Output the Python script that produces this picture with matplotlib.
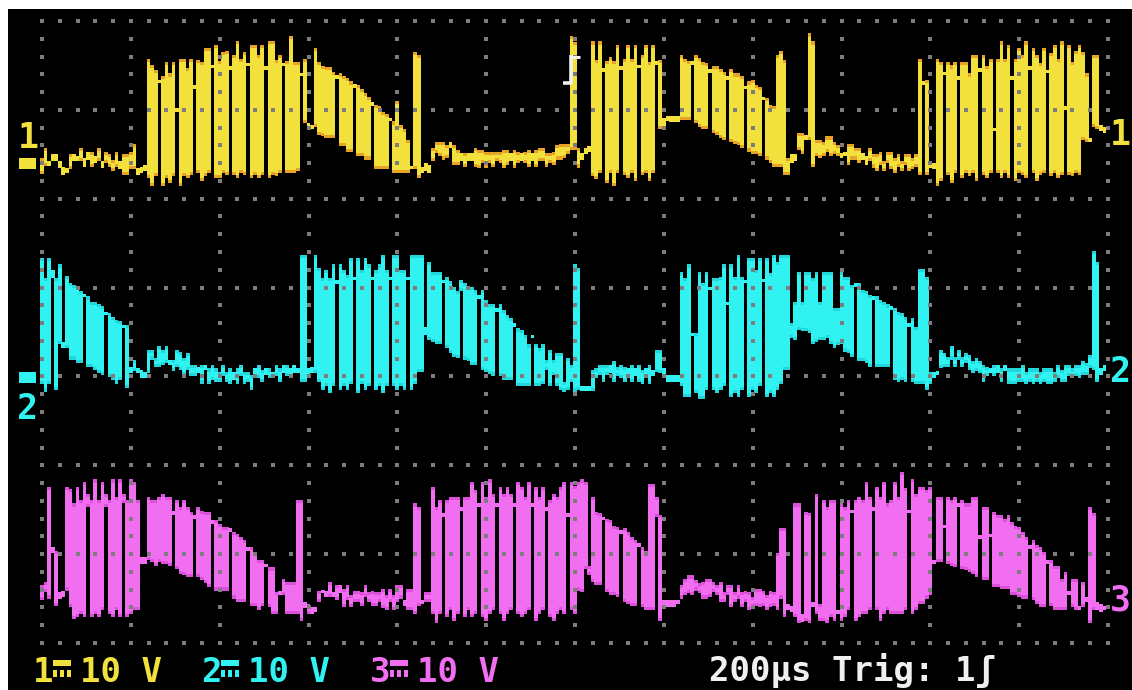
import numpy as np
import matplotlib
matplotlib.use("Agg")
import matplotlib.pyplot as plt
from matplotlib.patches import Rectangle
from matplotlib.transforms import IdentityTransform
from matplotlib import font_manager
from matplotlib.ft2font import FT2Font

# scope settings
time_per_div_us = 200
volts_per_div = 10
sample_us = 8.0          # one display column
n_hdiv, n_vdiv = 12, 7

# channel ground levels, in divisions from the bottom graticule line
ch1_ground = 5.40
ch2_ground = 2.99
ch3_ground = 0.48
trigger_us = 1200
trigger_level_v = 10.6

# per-column min / max of each trace, volts (300 columns, 8 us each)
ch1_lo = [
    -1.2, -0.3, -0.3, 0.2, 0.2, -0.5, -1.3, -1.1, -0.7, 0.2,
    0.2, 0.2, -0.4, 0.4, -0.4, 0.0, 0.2, -0.5, 0.0, -0.4,
    -0.9, -0.4, -0.7, -1.3, -1.3, -0.7, -0.7, -1.3, -1.1, -0.9,
    -1.7, -2.6, -1.5, 9.0, -2.6, -1.7, -2.2, -1.5, 5.8, -2.6,
    -1.5, -1.7, -1.3, 8.4, -1.1, -2.0, -1.5, -1.1, 10.7, -1.7,
    -1.7, -1.1, -1.3, 10.5, -1.3, -1.7, -1.1, -1.3, 10.9, -1.7,
    -1.3, -1.7, -1.3, 10.5, -1.7, -1.3, -1.5, -1.1, 10.9, -1.1,
    -1.1, -1.1, -0.9, 9.8, 4.5, 3.8, 3.8, 4.1, 3.2, 3.0,
    2.8, 2.8, 2.8, 9.5, 1.9, 1.9, 1.2, 1.2, 8.5, 0.8,
    0.8, 0.4, 0.4, 6.4, -0.7, -0.7, -0.7, -0.7, 4.7, -1.1,
    -1.1, -1.1, -1.1, -1.1, -0.7, -0.7, -1.7, -1.1, -0.9, -1.1,
    0.2, 1.1, 0.8, 0.4, 0.6, 1.7, -0.2, -0.2, 0.2, -0.4,
    0.2, 0.2, -0.4, -0.6, 0.0, -0.6, 0.0, -0.4, 0.2, 0.0,
    -0.6, -0.2, 0.2, -0.6, 0.0, 0.2, 0.0, -0.4, 0.2, -0.4,
    0.2, 0.2, -0.4, 0.0, -0.2, 0.4, 0.4, 0.6, 1.0, 1.5,
    1.5, -0.5, 0.4, 1.0, 1.3, -1.5, -1.8, -1.1, 10.3, -2.2,
    -1.1, -2.6, -1.1, 10.5, -1.3, -1.7, -1.1, -2.0, 10.7, -1.3,
    -1.1, -2.0, -1.1, 11.1, 3.8, 4.1, 4.7, 4.6, 4.6, 4.6,
    4.9, 4.9, 4.9, 11.1, 4.5, 4.1, 3.8, 3.8, 10.2, 3.4,
    3.2, 2.8, 2.6, 9.4, 2.4, 2.1, 2.0, 1.7, 8.3, 1.3,
    1.0, 1.0, 0.8, 7.1, 0.4, 0.0, -0.4, -0.4, -0.4, -1.3,
    -1.3, 0.0, 0.2, 1.5, 1.0, 2.6, 2.6, -0.4, 0.8, 0.6,
    0.8, 1.2, 0.8, 1.0, 0.8, 0.6, 0.8, -0.2, 0.4, 0.4,
    0.0, 0.4, -0.2, 0.2, -0.5, -0.9, -0.2, -0.9, 0.0, -0.7,
    -1.1, -0.4, -0.9, -0.2, -0.9, -0.7, -0.4, -1.3, 8.8, -1.3,
    -0.5, -0.7, -2.6, -2.0, 9.9, -1.3, -2.2, -1.1, 9.4, -1.7,
    -1.1, -1.5, -1.1, -2.0, 10.3, -1.3, -1.7, -1.1, 3.6, -1.1,
    -1.7, -1.1, -1.7, 9.4, -2.0, -1.1, -1.3, -1.7, 10.5, -1.1,
    -2.0, -1.3, -1.1, 10.1, -1.5, -1.1, -1.7, -1.3, 6.0, -1.3,
    -1.5, -1.1, -1.3, 2.6, 2.4, 2.4, 4.1, 3.8, 3.6, 3.4,
]
ch1_hi = [
    0.6, 1.7, 0.2, 1.0, 1.0, 0.2, -0.4, -0.5, 1.0, 1.0,
    0.8, 1.7, 0.6, 1.3, 1.3, 0.8, 1.7, 0.2, 1.3, 1.0,
    0.4, 1.3, 0.2, 1.0, 1.0, 1.3, 2.2, -0.5, -0.4, -0.2,
    11.7, 11.1, 10.5, 9.4, 9.8, 11.4, 10.1, 11.4, 6.1, 11.7,
    11.7, 10.7, 11.7, 8.8, 11.6, 11.4, 13.0, 13.0, 11.1, 13.3,
    11.5, 12.5, 12.6, 10.9, 12.2, 13.8, 11.7, 12.5, 11.3, 13.3,
    13.3, 12.2, 13.3, 10.9, 13.8, 13.8, 11.6, 12.2, 11.3, 11.5,
    14.3, 11.4, 11.4, 10.1, 11.7, 4.5, 4.3, 13.0, 11.4, 10.9,
    10.8, 10.8, 10.3, 9.9, 10.1, 9.8, 9.6, 9.2, 8.9, 8.8,
    8.4, 7.9, 7.5, 6.9, 6.6, 6.4, 5.8, 5.5, 5.0, 4.7,
    7.0, 4.3, 3.8, 2.6, -0.3, 12.5, 12.2, -0.4, 0.0, -0.2,
    1.7, 2.4, 2.4, 2.4, 2.0, 2.4, 2.0, 1.5, 1.1, 1.1,
    1.1, 1.1, 1.7, 1.5, 1.5, 1.3, 1.3, 1.3, 1.3, 1.3,
    1.5, 1.5, 1.1, 1.5, 1.3, 1.1, 1.3, 1.5, 1.1, 1.5,
    1.7, 1.7, 1.1, 1.1, 1.3, 2.0, 2.2, 2.2, 2.2, 14.3,
    13.6, 1.7, 1.1, 1.7, 1.9, 13.7, 11.6, 13.7, 10.7, 11.5,
    12.0, 11.5, 13.3, 10.9, 11.7, 13.3, 11.7, 13.3, 11.1, 12.2,
    13.3, 11.4, 13.3, 11.5, 11.6, 5.1, 5.3, 5.3, 5.3, 5.3,
    12.2, 11.7, 11.5, 11.4, 12.2, 11.8, 11.4, 11.3, 10.6, 10.9,
    10.9, 10.6, 10.3, 9.8, 10.6, 10.1, 10.1, 9.8, 8.6, 9.2,
    9.4, 8.8, 8.6, 7.5, 7.3, 6.6, 6.4, 12.2, 12.6, 11.6,
    0.6, 1.0, 1.0, 3.4, 3.4, 3.2, 14.6, 13.7, 2.6, 2.6,
    2.4, 3.0, 3.0, 2.4, 2.0, 1.1, 1.1, 2.2, 2.2, 1.7,
    1.7, 1.1, 0.8, 1.7, 1.0, 1.0, 1.3, 0.2, 1.3, 1.3,
    0.6, 1.0, 0.2, 1.0, 1.0, 0.6, 1.0, 11.7, 9.2, 9.4,
    0.2, 0.0, 11.7, 11.4, 10.3, 11.4, 11.0, 11.4, 9.8, 11.4,
    11.4, 10.1, 12.2, 12.2, 10.7, 12.2, 10.9, 11.7, 4.0, 11.7,
    13.7, 11.7, 13.3, 9.8, 11.7, 13.0, 12.2, 13.7, 10.9, 13.0,
    12.2, 11.3, 13.0, 10.5, 12.4, 13.3, 11.7, 13.7, 6.4, 13.3,
    11.4, 12.6, 13.3, 12.5, 10.1, 2.8, 12.2, 12.2, 4.3, 4.1,
]

ch2_lo = [
    -0.8, -1.6, -0.8, 11.2, -1.4, 3.7, 3.3, 3.3, 2.0, 2.0,
    1.6, 1.6, 9.0, 1.2, 1.2, 0.8, 0.5, 0.3, 7.0, 0.0,
    -0.3, -0.7, -0.3, 5.5, -1.2, 0.5, 0.7, 0.5, -0.1, -0.1,
    0.5, 2.0, 1.2, 1.2, 1.4, 1.6, 1.4, 0.7, 1.2, 0.8,
    0.3, 0.8, 0.1, 0.1, 0.5, -0.7, 0.8, -0.8, -0.3, -0.5,
    -0.5, 0.1, -0.5, -0.8, -0.3, -0.8, 0.1, -0.8, -0.5, -1.4,
    0.1, -0.1, -0.5, 0.3, -0.1, -0.1, 0.1, -0.5, 0.5, 0.1,
    0.3, 0.5, 0.5, -0.5, -0.5, 0.3, 0.5, 0.5, -0.5, -1.4,
    -1.0, -1.8, -1.0, 10.5, -1.4, -1.0, -1.4, -0.8, 10.9, -1.8,
    -0.8, -1.4, -1.0, 10.9, -1.4, -1.0, -1.8, -1.0, 10.9, -1.0,
    -1.4, -1.0, -1.4, 10.9, -1.4, -0.8, 0.6, 0.6, 4.8, 4.2,
    4.0, 3.7, 3.7, 10.6, 3.3, 2.7, 2.3, 2.2, 9.7, 2.0,
    1.8, 1.4, 1.4, 8.8, 0.8, 0.6, 0.4, 0.2, 7.4, 0.1,
    -0.3, -0.3, -0.3, 5.7, -1.0, -1.0, -1.0, -1.0, 4.4, -1.0,
    -1.0, -0.8, 0.8, -1.0, 0.3, -1.0, -1.4, -1.6, -1.4, -0.5,
    -1.6, -1.4, -1.5, -1.5, -1.5, -1.5, -0.1, 0.3, -0.5, 0.3,
    0.5, -0.5, 0.1, -0.1, -0.5, 0.1, -0.5, 0.1, -0.5, -0.8,
    0.1, -0.8, 0.1, 0.6, 0.5, 0.3, -0.5, -0.5, -0.5, -0.5,
    -1.0, -2.2, -2.2, 4.6, -1.8, -2.4, -2.4, -1.4, 9.8, -1.4,
    -1.8, -1.4, -1.0, 8.1, -2.2, -1.8, -2.2, -1.4, 10.6, -2.2,
    -1.4, -1.8, -1.0, 10.7, -2.2, -1.8, -2.2, -1.4, -0.8, 0.8,
    0.8, 4.4, 4.2, 5.3, 5.2, 5.2, 5.0, 3.7, 4.0, 4.2,
    4.2, 4.4, 3.7, 3.3, 3.6, 3.7, 2.9, 2.7, 2.3, 10.2,
    1.8, 1.8, 1.6, 1.2, 8.7, 1.2, 1.2, 1.2, 1.2, 7.6,
    -0.3, -0.5, -0.3, -0.5, 5.7, -0.5, -0.8, -0.8, -0.8, -1.4,
    -0.8, -0.1, 0.3, 1.0, 1.2, 1.2, 2.0, 1.2, 2.0, 1.2,
    1.6, 0.8, 0.5, 0.7, 0.5, -0.5, 0.1, 0.5, 0.1, 0.5,
    -0.5, 0.7, -0.7, -0.8, -0.8, -0.5, -0.5, -0.8, -0.5, -0.8,
    -0.5, -0.8, -0.5, -0.8, -0.8, -0.5, -0.1, -0.5, -0.5, 0.1,
    -0.1, 0.1, -0.1, 0.3, 0.3, 1.0, 0.8, -0.5, 0.3, 0.7,
]
ch2_hi = [
    13.4, 11.2, 13.4, 12.1, 11.2, 12.7, 4.0, 11.4, 10.6, 10.4,
    10.2, 9.7, 9.3, 9.1, 8.5, 8.5, 8.3, 8.0, 7.4, 7.2,
    6.8, 6.5, 6.3, 5.9, 5.9, 1.2, 2.0, 1.0, 0.8, 0.6,
    3.1, 3.1, 2.2, 3.5, 3.1, 3.5, 2.0, 2.0, 3.1, 2.9,
    2.2, 2.7, 1.4, 1.4, 1.2, 1.4, 1.4, 1.0, 1.4, 1.0,
    0.6, 1.4, 0.6, 1.0, 0.6, 1.0, 1.4, 0.6, 0.6, 0.3,
    1.0, 1.4, 0.8, 1.0, 1.0, 0.6, 1.4, 1.0, 1.4, 1.4,
    1.0, 1.4, 1.0, 13.8, 13.8, 1.0, 1.2, 13.8, 12.3, 11.2,
    12.1, 11.2, 12.7, 10.9, 12.7, 12.1, 11.5, 13.4, 11.3, 13.4,
    12.1, 13.4, 12.7, 11.3, 12.1, 12.7, 13.8, 12.1, 11.3, 13.8,
    13.8, 12.1, 12.1, 11.3, 13.8, 13.8, 13.8, 13.8, 5.7, 13.0,
    11.9, 11.9, 11.9, 11.0, 11.3, 10.8, 10.2, 9.7, 11.0, 10.6,
    10.2, 10.2, 9.8, 9.3, 9.8, 8.7, 8.3, 8.3, 7.8, 8.3,
    7.6, 7.0, 6.7, 6.1, 5.5, 5.3, 4.8, 3.7, 4.8, 3.8,
    3.3, 3.7, 2.0, 3.1, 2.0, 2.7, 2.7, -0.5, 2.2, 1.4,
    12.7, 12.3, -1.0, -1.0, -1.0, 0.8, 1.0, 1.4, 1.4, 1.4,
    1.4, 1.8, 1.2, 1.4, 1.2, 1.0, 1.4, 1.0, 1.4, 0.8,
    1.0, 1.4, 0.8, 3.1, 3.1, 1.0, 0.3, 0.3, 0.3, 0.3,
    11.9, 11.2, 12.7, 5.0, 5.0, 11.9, 10.6, 11.9, 10.2, 11.2,
    11.2, 11.3, 12.7, 8.5, 12.7, 11.3, 13.8, 11.3, 11.0, 13.4,
    13.4, 12.1, 13.4, 11.1, 13.4, 11.7, 13.8, 13.0, 13.8, 13.8,
    13.8, 6.1, 8.5, 11.9, 8.5, 11.9, 11.9, 11.2, 11.9, 8.5,
    11.9, 11.9, 11.9, 7.8, 7.8, 11.9, 11.3, 11.3, 10.4, 10.6,
    10.6, 9.8, 9.7, 9.3, 9.1, 9.1, 8.7, 8.5, 8.2, 8.0,
    7.8, 7.4, 7.2, 6.8, 6.1, 6.7, 5.7, 12.2, 12.2, 11.3,
    0.6, 0.6, 0.6, 3.1, 2.7, 2.3, 3.5, 2.3, 3.1, 2.3,
    2.7, 2.5, 1.8, 2.2, 1.8, 1.4, 1.2, 1.0, 1.4, 1.4,
    1.0, 1.4, 1.0, 1.0, 1.0, 1.0, 1.4, 0.6, 1.0, 1.0,
    1.0, 0.6, 1.0, 1.0, 1.0, 0.6, 1.4, 0.8, 1.4, 1.4,
    1.0, 1.4, 1.4, 1.8, 1.6, 2.5, 14.2, 13.0, 1.0, 1.4,
]

ch3_lo = [
    0.0, 0.9, 0.2, 5.3, -0.6, 0.2, 0.4, 1.1, -0.8, -2.1,
    -1.9, -1.5, -1.9, 10.5, -1.9, -1.5, -1.9, -1.1, 10.5, -1.5,
    -1.9, -1.1, -1.9, 10.9, -1.9, -1.5, -1.1, -1.1, 4.1, 4.1,
    4.5, 4.3, 3.9, 4.3, 4.1, 4.1, 3.9, 9.6, 3.5, 3.0,
    2.8, 2.6, 2.6, 9.2, 2.6, 2.3, 1.9, 1.5, 8.6, 1.1,
    1.1, 1.1, 1.1, 7.7, 0.2, -0.2, -0.2, -0.2, 5.6, -0.6,
    -0.6, -1.1, -0.6, 3.7, -0.8, -1.5, -1.5, 0.6, 0.6, -1.5,
    -1.5, -1.5, -1.5, -2.3, -0.9, -1.5, -1.5, -1.3, -0.2, 0.8,
    0.4, 0.4, 0.4, 0.0, 0.8, -0.8, 0.0, -0.8, -0.2, -0.2,
    -0.6, 0.4, -0.2, -0.6, -0.6, -0.2, -0.9, -1.1, -0.2, -1.1,
    -0.2, 0.2, -0.6, -1.1, -1.1, -1.5, -0.6, -0.4, -0.2, -0.2,
    -1.5, -2.6, -1.5, 9.4, -1.9, -1.1, -2.3, -1.5, 10.1, -1.9,
    -1.1, -1.9, -1.5, 10.5, -1.9, -2.3, -1.5, -1.1, 10.5, -1.5,
    -2.3, -1.5, -1.1, 10.5, -1.5, -1.9, -1.5, -1.1, 10.5, -2.3,
    -1.5, -1.1, 10.1, -1.9, -2.3, -1.5, -1.1, -1.5, 9.4, -1.1,
    -1.5, 1.1, 0.9, 3.5, 2.8, 2.1, 1.7, 1.7, 9.0, 0.9,
    0.6, 0.6, 0.4, 7.5, -0.2, -0.4, -0.6, -0.6, 6.0, -0.8,
    -1.1, -1.1, -1.1, 9.4, -2.3, -0.8, -0.8, -0.8, -0.8, -0.4,
    0.2, 0.6, 0.8, 0.6, 1.1, 0.8, 0.2, 0.2, 0.4, 0.9,
    0.6, -0.2, -0.2, 0.6, -0.8, -0.2, 0.2, -0.8, -0.2, -1.1,
    -0.8, -0.6, -0.8, -0.6, -1.1, -0.8, -0.6, -1.1, 0.2, -1.9,
    -1.1, -1.3, -1.9, -2.6, -2.4, -2.3, -2.6, -0.8, -1.5, -2.3,
    -2.3, -2.6, -1.9, -2.3, -1.5, -2.3, -1.9, -1.1, 9.8, -2.3,
    -1.9, -1.5, -1.5, -1.1, 10.1, -1.1, -2.3, -1.5, -1.1, -1.5,
    -1.5, -1.5, -1.5, -1.1, 9.8, -1.5, -1.1, -0.4, -0.4, 0.2,
    0.6, 4.1, 4.3, 4.3, 8.1, 4.1, 3.9, 3.7, 10.5, 3.5,
    3.4, 3.2, 3.0, 2.6, 6.9, 2.3, 2.3, 7.1, 1.5, 1.5,
    1.3, 1.3, 1.3, 0.6, 0.6, 0.4, 0.2, 0.2, 5.8, 0.0,
    -0.4, -0.8, -0.8, 4.1, -0.6, -1.1, -1.1, -1.1, -1.1, 0.6,
    -0.8, -1.1, -1.1, -0.8, -0.2, -2.6, -1.1, -1.1, -1.3, -1.1,
]
ch3_hi = [
    1.7, 2.1, 12.8, 6.0, 5.6, 0.9, 1.1, 12.8, 12.5, 10.9,
    12.8, 11.3, 13.3, 12.0, 11.3, 13.6, 11.3, 13.3, 12.0, 11.3,
    13.6, 11.6, 13.6, 12.0, 11.3, 13.6, 13.3, 11.3, 4.9, 4.9,
    11.6, 11.3, 11.3, 11.6, 12.0, 11.6, 11.6, 10.0, 11.3, 10.5,
    11.3, 10.5, 9.9, 9.6, 10.5, 10.1, 9.9, 9.9, 9.0, 9.0,
    8.6, 8.3, 8.3, 8.1, 7.7, 7.5, 7.1, 6.8, 6.0, 6.0,
    5.3, 4.5, 4.5, 4.1, 3.7, 3.7, 0.9, 0.9, 2.4, 2.1,
    2.1, 2.1, 11.3, 11.3, -0.2, -0.4, -0.8, -0.8, 1.1, 1.1,
    1.1, 2.1, 0.9, 1.7, 1.7, 1.3, 1.7, 0.6, 1.1, 1.1,
    0.9, 1.7, 0.9, 1.1, 0.9, 0.9, 1.3, 0.6, 1.3, 0.6,
    1.7, 1.7, 0.0, 1.3, 1.3, 10.9, 10.5, 0.0, 0.9, 0.9,
    12.8, 10.5, 11.3, 9.8, 11.3, 11.6, 11.6, 11.6, 10.5, 11.6,
    11.6, 13.3, 12.4, 10.9, 13.3, 11.6, 13.6, 12.0, 10.9, 12.8,
    12.0, 12.8, 12.0, 10.9, 13.3, 12.8, 11.6, 13.3, 10.9, 12.8,
    11.6, 12.8, 10.5, 11.3, 12.0, 11.6, 12.8, 13.3, 9.8, 13.3,
    12.9, 13.3, 13.6, 13.3, 3.9, 11.6, 9.9, 9.8, 9.4, 9.2,
    9.0, 8.4, 8.3, 7.9, 8.1, 7.7, 7.1, 6.8, 6.4, 6.0,
    5.6, 13.1, 13.1, 11.6, 9.6, 0.0, 0.0, 0.0, 0.0, 0.0,
    1.7, 2.4, 2.8, 2.8, 2.3, 1.9, 2.1, 2.4, 2.4, 2.1,
    1.7, 2.1, 0.9, 1.7, 1.7, 0.9, 1.7, 0.9, 1.1, 0.9,
    0.4, 1.3, 1.3, 1.1, 0.6, 1.1, 0.9, 5.3, 8.1, 8.1,
    -0.4, -0.6, 10.9, 10.9, -1.5, 9.9, 9.8, -0.2, 12.0, -0.4,
    11.3, 10.5, 11.3, 11.3, -1.1, 10.9, 10.5, 11.3, 10.1, 11.3,
    11.6, 11.3, 13.3, 11.6, 10.5, 12.8, 11.6, 13.3, 10.9, 11.3,
    13.3, 11.6, 14.5, 12.6, 10.1, 13.7, 12.0, 12.8, 12.8, 12.4,
    12.8, 4.5, 11.6, 11.6, 8.4, 11.6, 11.3, 11.6, 10.9, 11.3,
    10.9, 10.9, 11.6, 11.6, 7.3, 10.5, 10.5, 7.5, 9.9, 9.6,
    9.6, 9.2, 9.6, 8.8, 8.4, 8.3, 7.7, 7.1, 6.2, 6.8,
    6.2, 6.0, 5.4, 4.5, 4.5, 3.9, 3.9, 2.4, 3.2, 0.9,
    2.4, 2.4, -0.6, 2.1, 0.4, 10.5, 9.8, -0.2, -0.4, -0.6,
]

# bottom status line
channel_names = ["1", "2", "3"]
coupling_symbol = "⎓"
channel_scales = ["10 V", "10 V", "10 V"]
timebase_label = "200µs Trig: 1ʃ"

yellow, orange = "#f2e03c", "#e6a325"
cyan, cyan_dark = "#30f2f0", "#22d6dc"
magenta, magenta_dark = "#f26ef0", "#dc50dc"
grid_grey = "#7d7d7d"
white = "#f0f0f0"

W, H = 1132, 690
fig = plt.figure(figsize=(W / 100, H / 100), dpi=100, facecolor="white")
ax = fig.add_axes([8 / W, 0, (W - 8) / W, (H - 9) / H])
ax.set_facecolor("black")
# 1066 px span the 12 divisions, 88.86 px per vertical division
us_per_px = n_hdiv * time_per_div_us / 1066
ax.set_xlim(-34 * us_per_px, 1090 * us_per_px)
ax.set_ylim(-47 / 88.86, 634 / 88.86)
ax.set_xticks([])
ax.set_yticks([])
for s in ax.spines.values():
    s.set_visible(False)

sample_times = np.arange(len(ch1_lo)) * sample_us


def draw_trace(lo, hi, ground, body, edge):
    lo = np.asarray(lo)
    hi = np.asarray(hi)
    span = np.maximum(hi - lo, 0.4)
    w = sample_us * 1.04
    ax.bar(sample_times, span / volts_per_div, bottom=ground + lo / volts_per_div,
           width=w, color=edge, linewidth=0, zorder=2)
    thick = span > 1.0
    ax.bar(sample_times[thick], (span[thick] - 0.7) / volts_per_div,
           bottom=ground + (lo[thick] + 0.35) / volts_per_div,
           width=w, color=body, linewidth=0, zorder=3)
    ax.bar(sample_times[~thick], span[~thick] / volts_per_div,
           bottom=ground + lo[~thick] / volts_per_div,
           width=w, color=body, linewidth=0, zorder=3)


draw_trace(ch1_lo, ch1_hi, ch1_ground, yellow, orange)
draw_trace(ch2_lo, ch2_hi, ch2_ground, cyan, cyan_dark)
draw_trace(ch3_lo, ch3_hi, ch3_ground, magenta, magenta_dark)

# dotted graticule, drawn over the traces like on the scope
t_major = np.arange(0, n_hdiv + 1) * time_per_div_us
t_minor = np.arange(0, n_hdiv * 5 + 1) * time_per_div_us / 5
y_major = np.arange(0, n_vdiv + 1)
y_minor = np.arange(0, n_vdiv * 5 + 1) / 5
for t in t_major:
    ax.plot(np.full_like(y_minor, t), y_minor, ls="none", marker="s", ms=2.6,
            mew=0, color=grid_grey, zorder=5)
for y in y_major:
    ax.plot(t_minor, np.full_like(t_minor, y), ls="none", marker="s", ms=2.6,
            mew=0, color=grid_grey, zorder=5)

# ground markers on the left edge
for g, c in [(ch1_ground, yellow), (ch2_ground, cyan)]:
    ax.add_patch(Rectangle((-23 * us_per_px, g - 0.062), 17 * us_per_px, 0.124,
                           color=c, lw=0, zorder=6))

mono = ["DejaVu Sans Mono", "DejaVu Sans"]
font = dict(family=mono, weight="bold")
ax.text(-14 * us_per_px, ch1_ground + 0.09, "1", color=yellow, fontsize=25,
        ha="center", va="bottom", zorder=6, **font)
ax.text(-15 * us_per_px, ch2_ground - 0.17, "2", color=cyan, fontsize=25,
        ha="center", va="top", zorder=6, **font)

# channel numbers at the right end of the traces
right_x = 1078 * us_per_px
ax.text(right_x, ch1_ground + 0.32, "1", color=yellow, fontsize=25,
        ha="center", va="center", zorder=6, **font)
ax.text(right_x, ch2_ground + 0.06, "2", color=cyan, fontsize=25,
        ha="center", va="center", zorder=6, **font)
ax.text(right_x, ch3_ground + 0.0, "3", color=magenta, fontsize=25,
        ha="center", va="center", zorder=6, **font)

# trigger position / level marker
tl = ch1_ground + trigger_level_v / volts_per_div
ax.plot([trigger_us - 9, trigger_us - 9, trigger_us - 28],
        [tl + 0.155, tl - 0.155, tl - 0.155], color=white, lw=2.6,
        solid_capstyle="butt", zorder=6)
ax.plot([trigger_us - 9, trigger_us + 11], [tl + 0.14, tl + 0.14],
        color=white, lw=2.2, solid_capstyle="butt", zorder=6)


# find an installed family that has the DC coupling sign
def family_with(ch, candidates):
    for fam in candidates:
        try:
            path = font_manager.findfont(font_manager.FontProperties(family=fam),
                                         fallback_to_default=False)
            if FT2Font(path).get_char_index(ord(ch)):
                return fam
        except Exception:
            continue
    return None


dc_family = family_with(coupling_symbol,
                        ["DejaVu Sans Mono", "DejaVu Sans", "Noto Sans", "Noto Sans CJK SC",
                         "Noto Sans CJK JP", "Liberation Sans", "Liberation Mono",
                         "Roboto", "Open Sans", "Lato", "Inter", "DejaVu Serif"])

# status line: text boxes sit just inside the bottom edge
fs = 24.5
pix = IdentityTransform()
txt_y = 1.5 / H
for name, scale, col, x0 in zip(channel_names, channel_scales,
                                [yellow, cyan, magenta], [33, 201, 370]):
    if dc_family:
        fig.text(x0 / W, txt_y, name + coupling_symbol + scale, color=col,
                 fontsize=fs, ha="left", va="bottom",
                 family=mono + [dc_family], weight="bold")
    else:
        fig.text(x0 / W, txt_y, name, color=col, fontsize=fs, ha="left",
                 va="bottom", **font)
        fig.text((x0 + 47) / W, txt_y, scale, color=col, fontsize=fs,
                 ha="left", va="bottom", **font)
        # the sign itself: a solid bar over three short dashes
        sx = x0 + 20
        fig.add_artist(Rectangle((sx, H - 666), 18, 6, color=col, lw=0, transform=pix))
        for dx in (0, 7, 14):
            fig.add_artist(Rectangle((sx + dx, H - 677), 4, 7, color=col, lw=0,
                                     transform=pix))
fig.text(709 / W, txt_y, timebase_label, color=white, fontsize=fs,
         ha="left", va="bottom", **font)

fig.savefig("out.png", dpi=100, facecolor="white")
